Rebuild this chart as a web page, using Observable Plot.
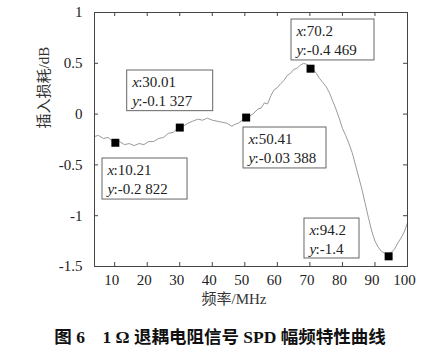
<!DOCTYPE html>
<html>
<head>
<meta charset="utf-8">
<script src="https://cdn.jsdelivr.net/npm/d3@7"></script>
<script src="https://cdn.jsdelivr.net/npm/@observablehq/plot@0.6"></script>
<style>
  body { margin: 0; background: #fff; width: 440px; }
  #chart svg { display: block; }
  #chart svg, #chart svg text { font-family: "Liberation Serif", "Noto Sans CJK SC", serif !important; }
  #caption { text-align: center; font-family: "Liberation Serif", "Noto Sans CJK SC", serif; font-weight: bold; font-size: 17.5px; line-height: 20px; padding-top: 17px; color: #111; }
</style>
</head>
<body>
<div id="chart"></div>
<div id="caption">图 6&ensp;&ensp;1 Ω 退耦电阻信号 SPD 幅频特性曲线</div>
<script>
// Curve: frequency (MHz) and insertion loss (dB)
const freq = [3.8,5,6.5,8,9,10.2,11.5,13,14.5,16,17.5,19,20.5,22,23.5,25,26.5,28,29,30,31,32.5,34,35.5,37,38.5,40,41.5,43,44.5,46,47,48,49.2,50.4,51.5,52.8,54,55,56,57,58,59,60,61,62,63,64,65,66,67,68,69,70,71,72,73,74,75,76,77,78,79,80,81,82,83,84,85,86,87,88,89,90,91,92,93,94,95,96,97,98,99,100];
const loss = [-0.22,-0.21,-0.24,-0.23,-0.26,-0.28,-0.27,-0.30,-0.29,-0.31,-0.29,-0.30,-0.27,-0.27,-0.24,-0.23,-0.19,-0.18,-0.15,-0.14,-0.12,-0.09,-0.07,-0.05,-0.06,-0.04,-0.06,-0.07,-0.08,-0.09,-0.12,-0.10,-0.09,-0.06,-0.03,-0.02,0.01,0.05,0.06,0.11,0.10,0.18,0.24,0.26,0.30,0.33,0.38,0.40,0.44,0.45,0.48,0.50,0.49,0.47,0.44,0.40,0.35,0.31,0.27,0.21,0.13,0.05,-0.04,-0.14,-0.21,-0.29,-0.38,-0.50,-0.62,-0.74,-0.88,-1.02,-1.15,-1.25,-1.31,-1.35,-1.37,-1.38,-1.36,-1.33,-1.27,-1.22,-1.16,-1.07];

// Data tips (markers) and their label texts
const tipX = [10.21, 30.01, 50.41, 70.2, 94.2];
const tipY = [-0.2822, -0.1327, -0.03388, 0.4469, -1.4];
const tipXText = ["10.21", "30.01", "50.41", "70.2", "94.2"];
const tipYText = ["-0.2 822", "-0.1 327", "-0.03 388", "-0.4 469", "-1.4"];

// Callout box placement (data units)
const boxLeft   = [6.26, 13.85, 49.6, 64.35, 68.34];
const boxRight  = [32.4, 40.28, 75.1, 89.86, 85.25];
const boxTop    = [-0.437, 0.429, -0.132, 0.931, -1.028];
const boxBottom = [-0.841, 0.029, -0.535, 0.528, -1.421];

// Axis ticks
const xTicks = [10, 20, 30, 40, 50, 60, 70, 80, 90, 100];
const yTicks = [1, 0.5, 0, -0.5, -1, -1.5];
const xLabel = "频率/MHz";
const yLabel = "插入损耗/dB";

const curve = freq.map((f, i) => ({f, v: loss[i]}));
const tips = tipX.map((x, i) => ({x, y: tipY[i], xt: tipXText[i], yt: tipYText[i],
  l: boxLeft[i], r: boxRight[i], t: boxTop[i], b: boxBottom[i]}));

const W = 440, H = 310, mL = 94, mR = 33, mT = 12, mB = 44;
const fw = W - mL - mR, fh = H - mT - mB;
const fs = 15;
const serif = '"Liberation Serif", "Noto Sans CJK SC", serif';

const plot = Plot.plot({
  width: W, height: H,
  marginLeft: mL, marginRight: mR, marginTop: mT, marginBottom: mB,
  style: {fontSize: fs + "px", fontFamily: serif, color: "#222", background: "#fff"},
  x: {domain: [3.8, 100]},
  y: {domain: [-1.5, 1]},
  marks: [
    Plot.line(curve, {x: "f", y: "v", stroke: "#9a9a9a", strokeWidth: 1}),
    Plot.tickX(xTicks, {insetTop: fh - 4, stroke: "#444"}),
    Plot.tickX(xTicks, {insetBottom: fh - 4, stroke: "#444"}),
    Plot.tickY(yTicks, {insetLeft: fw - 4, stroke: "#444"}),
    Plot.tickY(yTicks, {insetRight: fw - 4, stroke: "#444"}),
    Plot.frame({stroke: "#444", strokeWidth: 1}),
    Plot.axisX(xTicks, {tickSize: 0, tickPadding: 8, label: null, fontSize: fs, dx: -3, tickFormat: d => String(d)}),
    Plot.axisY(yTicks, {tickSize: 0, tickPadding: 12, label: null, fontSize: fs, tickFormat: d => String(d)}),
    Plot.dot(tips, {x: "x", y: "y", symbol: "square", r: 4.5, fill: "#000", stroke: null}),
    Plot.rect(tips, {x1: "l", x2: "r", y1: "b", y2: "t", fill: "#fff", stroke: "#666", strokeWidth: 1}),
    Plot.text(tips, {x: "l", y: "t", text: () => "x", dx: 5, dy: 12, textAnchor: "start", lineAnchor: "middle", fontStyle: "italic", fontSize: fs, fill: "#222"}),
    Plot.text(tips, {x: "l", y: "t", text: d => ":" + d.xt, dx: 11, dy: 12, textAnchor: "start", lineAnchor: "middle", fontSize: fs, fill: "#222"}),
    Plot.text(tips, {x: "l", y: "t", text: () => "y", dx: 5, dy: 31, textAnchor: "start", lineAnchor: "middle", fontStyle: "italic", fontSize: fs, fill: "#222"}),
    Plot.text(tips, {x: "l", y: "t", text: d => ":" + d.yt, dx: 11, dy: 31, textAnchor: "start", lineAnchor: "middle", fontSize: fs, fill: "#222"}),
    Plot.text([xLabel], {frameAnchor: "bottom", text: d => d, dx: -17, dy: 33, lineAnchor: "middle", fontSize: fs, fill: "#333"}),
    Plot.text([yLabel], {frameAnchor: "left", text: d => d, dx: -50, dy: -11, rotate: -90, lineAnchor: "middle", fontSize: fs, fill: "#333"})
  ]
});
document.getElementById("chart").appendChild(plot);
</script>
</body>
</html>
